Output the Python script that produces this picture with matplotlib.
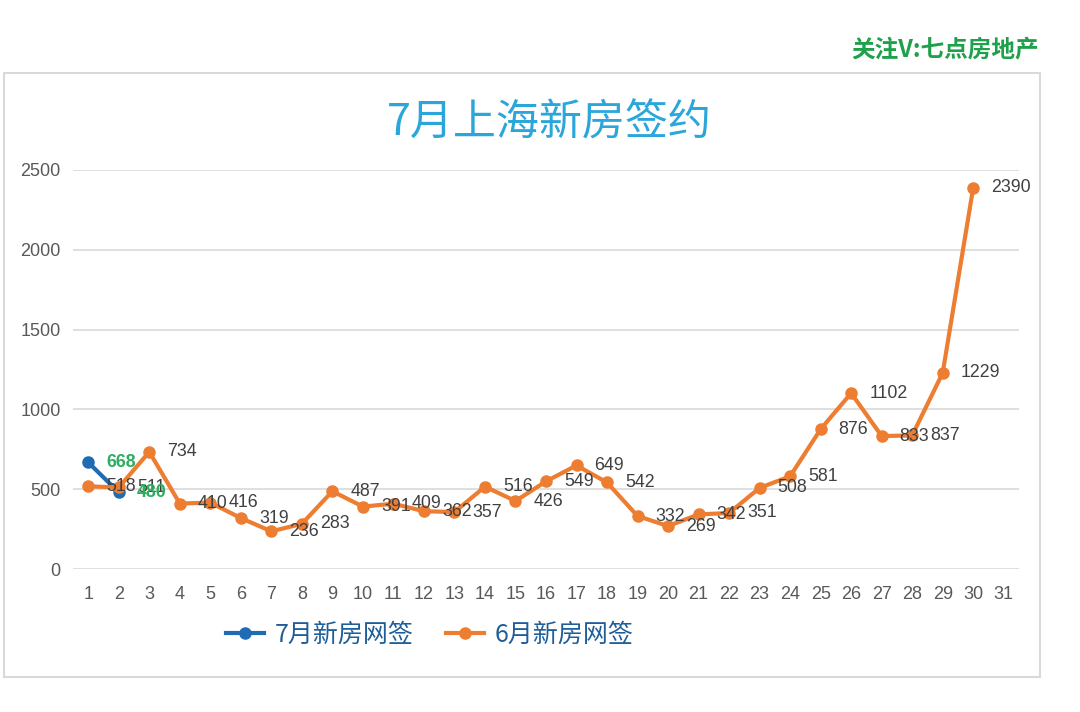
import matplotlib
matplotlib.use("Agg")
import matplotlib.pyplot as plt
from matplotlib.patches import Rectangle

plt.rcParams['font.family'] = ['Liberation Sans', 'Noto Sans CJK SC', 'DejaVu Sans']

days = list(range(1, 32))
june_days = list(range(1, 31))
june_values = [518, 511, 734, 410, 416, 319, 236, 283, 487, 391, 409, 362, 357, 516,
               426, 549, 649, 542, 332, 269, 342, 351, 508, 581, 876, 1102, 833, 837,
               1229, 2390]
july_days = [1, 2]
july_values = [668, 480]
y_ticks = [0, 500, 1000, 1500, 2000, 2500]

title = "7月上海新房签约"
watermark = "关注V:七点房地产"
july_name = "7月新房网签"
june_name = "6月新房网签"

ORANGE = "#ED7D31"
BLUE = "#1F6CB3"
GRID = "#D9D9D9"
TICK = "#595959"
CJK = ["Noto Sans CJK SC", "DejaVu Sans"]

W, H = 1080, 712
fig = plt.figure(figsize=(W / 100, H / 100), dpi=100)
fig.patch.set_facecolor("white")

# outer chart border
fig.patches.append(Rectangle((4 / W, 1 - 677 / H), (1040 - 4) / W, (677 - 73) / H,
                             transform=fig.transFigure, fill=False,
                             edgecolor="#D9D9D9", linewidth=1.5))

ax = fig.add_axes([73 / W, 1 - 569 / H, (1019 - 73) / W, (569 - 170) / H])
ax.set_xlim(0.5, 31.5)
ax.set_ylim(0, 2500)
ax.set_yticks(y_ticks)
ax.set_xticks(days)
ax.set_xticklabels([str(d) for d in days])
for s in ax.spines.values():
    s.set_visible(False)
ax.grid(axis="y", color=GRID, linewidth=1.2)
ax.set_axisbelow(True)
ax.tick_params(axis="both", length=0, colors=TICK, labelsize=13)
ax.tick_params(axis="x", pad=12)
ax.tick_params(axis="y", pad=9)

lj, = ax.plot(july_days, july_values, color=BLUE, linewidth=3, marker="o",
              markersize=8, zorder=3, label=july_name, clip_on=False)
lo, = ax.plot(june_days, june_values, color=ORANGE, linewidth=3, marker="o",
              markersize=8, zorder=4, label=june_name, clip_on=False)

for d, v in zip(june_days, june_values):
    ax.annotate(str(v), (d, v), xytext=(13, 0), textcoords="offset points",
                ha="left", va="center", fontsize=12.8, color="#404040", zorder=6)
for d, v in zip(july_days, july_values):
    ax.annotate(str(v), (d, v), xytext=(13, 0), textcoords="offset points",
                ha="left", va="center", fontsize=12.8, color="#2EAD5E",
                fontweight="bold", zorder=7)

fig.text(549 / W, 1 - 124 / H, title, ha="center", va="center", fontsize=31,
         color="#2AA6DB", family=CJK, fontweight="medium")
fig.text(1039 / W, 1 - 50 / H, watermark, ha="right", va="center", fontsize=17,
         color="#1FA04B", fontweight="bold", family=CJK)

leg = fig.legend(handles=[lj, lo], loc="center left",
                 bbox_to_anchor=(226 / W, 1 - 635 / H), ncol=2, frameon=False,
                 prop={"family": CJK, "size": 18, "weight": "medium"},
                 handlelength=1.5, handletextpad=0.45, columnspacing=1.3,
                 borderpad=0, borderaxespad=0)
for t in leg.get_texts():
    t.set_color("#1F5E99")

fig.savefig("out.png", dpi=100, facecolor="white")
